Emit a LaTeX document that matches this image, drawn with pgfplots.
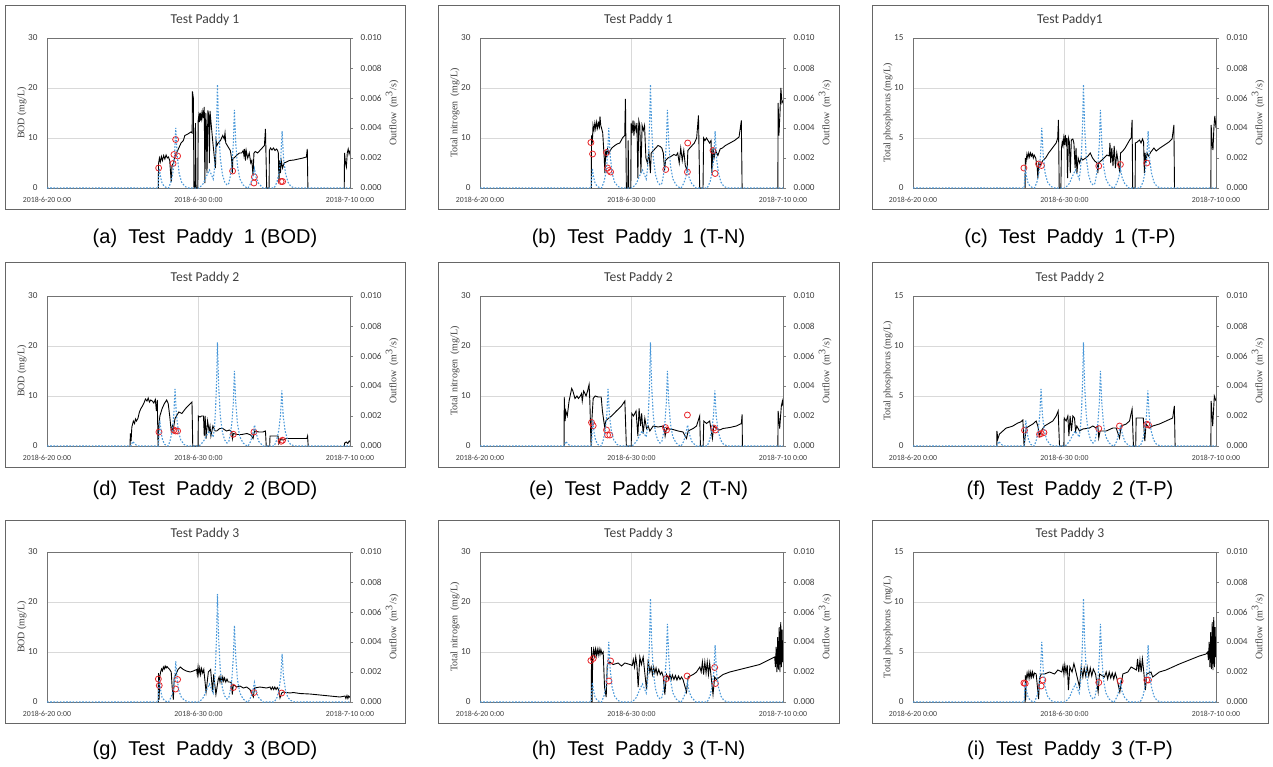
\documentclass[border=0pt]{standalone}
\usepackage{fontspec}
\setmainfont{Carlito}
\newfontfamily\serifl{Liberation Serif}
\newfontfamily\capfont{Liberation Sans}
\usepackage{pgfplots}
\pgfplotsset{compat=1.18}
\usepackage{pgfplotstable}

\definecolor{txt}{HTML}{404040}
\definecolor{gridc}{HTML}{D9D9D9}
\definecolor{qblue}{HTML}{4A98D9}
\definecolor{obsred}{HTML}{E8262A}

% outflow, paddy 1 (also used for paddy 3 T-N / T-P)
\pgfplotstableread{
x y
0 0
7.34 0
7.38 0.0009
7.42 0.0013
7.5 0.0007
7.6 0.0003
7.75 0.0001
7.95 0
8.02 0
8.18 0.0004
8.31 0.001
8.42 0.0022
8.5 0.004
8.59 0.0022
8.72 0.001
8.88 0.0004
9.1 0.0001
9.35 0
10.05 0
10.32 0.0003
10.53 0.0008
10.72 0.0012
10.85 0.0009
10.97 0.0006
11.05 0.0012
11.13 0.0025
11.2 0.0045
11.25 0.0069
11.33 0.004
11.44 0.002
11.58 0.0009
11.73 0.0004
11.88 0.0002
12.0 0.0003
12.1 0.0008
12.2 0.0015
12.3 0.003
12.37 0.0052
12.46 0.003
12.57 0.0015
12.73 0.0006
12.95 0.0002
13.2 0
13.28 0
13.44 0.0003
13.58 0.0007
13.69 0.0013
13.8 0.0007
13.97 0.0003
14.25 0
15.0 0
15.18 0.0004
15.31 0.001
15.43 0.002
15.52 0.0038
15.61 0.002
15.74 0.001
15.9 0.0004
16.1 0.0001
16.35 0
20 0
}\QA

% outflow, paddy 2
\pgfplotstableread{
x y
0 0
5.55 0
5.65 0.0003
5.75 0.0002
5.95 0
7.36 0
7.4 0.0011
7.45 0.0017
7.53 0.0009
7.63 0.0004
7.78 0.0001
7.98 0
8.0 0
8.14 0.0004
8.26 0.001
8.37 0.0021
8.45 0.0038
8.54 0.0021
8.67 0.001
8.83 0.0004
9.05 0.0001
9.3 0
10.05 0
10.32 0.0003
10.53 0.0007
10.7 0.001
10.85 0.0008
10.97 0.0006
11.05 0.0012
11.13 0.0025
11.2 0.0045
11.25 0.0069
11.33 0.004
11.44 0.002
11.58 0.0009
11.73 0.0004
11.88 0.0002
12.0 0.0003
12.1 0.0008
12.2 0.0015
12.3 0.0029
12.37 0.005
12.46 0.0029
12.57 0.0015
12.73 0.0006
12.95 0.0002
13.2 0
13.28 0
13.44 0.0003
13.58 0.0008
13.7 0.0014
13.82 0.0008
13.98 0.0003
14.25 0
15.0 0
15.16 0.0004
15.29 0.001
15.41 0.002
15.5 0.0037
15.59 0.002
15.72 0.001
15.88 0.0004
16.08 0.0001
16.35 0
20 0
}\QB

% outflow, paddy 3 BOD panel
\pgfplotstableread{
x y
0 0
7.34 0
7.38 0.001
7.42 0.0015
7.5 0.0008
7.6 0.0003
7.75 0.0001
7.95 0
8.02 0
8.18 0.0003
8.31 0.0007
8.42 0.0015
8.5 0.0027
8.59 0.0015
8.72 0.0007
8.88 0.0003
9.1 0.0001
9.35 0
10.05 0
10.32 0.0003
10.53 0.0008
10.72 0.0012
10.85 0.0009
10.97 0.0006
11.05 0.0013
11.13 0.0026
11.2 0.0047
11.25 0.0072
11.33 0.0042
11.44 0.0021
11.58 0.0009
11.73 0.0004
11.88 0.0002
12.0 0.0003
12.1 0.0008
12.2 0.0015
12.3 0.003
12.37 0.0051
12.46 0.003
12.57 0.0015
12.73 0.0006
12.95 0.0002
13.2 0
13.28 0
13.44 0.0003
13.58 0.0007
13.69 0.0013
13.8 0.0007
13.97 0.0003
14.25 0
15.0 0
15.18 0.0003
15.31 0.0008
15.43 0.0017
15.52 0.0032
15.61 0.0017
15.74 0.0008
15.9 0.0003
16.1 0.0001
16.35 0
20 0
}\QC

\pgfplotsset{
  base/.style={scale only axis, width=151.5pt, height=75pt, xmin=0, xmax=20,
    /pgf/number format/assume math mode=true,
    tick label style={font=\fontsize{4.6}{5}\selectfont, color=txt},
    every axis y label/.style={font=\serifl\fontsize{5}{6}\selectfont, color=txt, rotate=90, anchor=center},
    anchor=south west},
  conc/.style={base, ymin=0, xtick={0,10,20},
    xticklabels={2018-6-20 0:00,2018-6-30 0:00,2018-7-10 0:00},
    x tick label style={font=\fontsize{3.9}{4.5}\selectfont, yshift=-1.2pt},
    yticklabel style={xshift=-1.2pt},
    xmajorgrids, ymajorgrids, grid style={gridc, line width=0.4pt},
    axis line style={black!55, line width=0.4pt},
    major tick length=0pt, unbounded coords=jump,
    ylabel style={at={(axis description cs:-0.0825,0.5)}}},
  flow/.style={base, ymin=0, ymax=0.01, axis x line=none, axis y line*=right,
    ytick={0,0.002,0.004,0.006,0.008,0.01}, scaled y ticks=false,
    yticklabel style={/pgf/number format/fixed, /pgf/number format/fixed zerofill,
      /pgf/number format/precision=3, xshift=0.3pt},
    major tick length=1.5pt, tick align=outside,
    axis line style={black!55, line width=0.4pt},
    ylabel={Outflow\ \ (m\textsuperscript{3}/s)},
    ylabel style={at={(axis description cs:1.139,0.5)}}},
  cline/.style={black, line width=0.45pt, no markers},
  obs/.style={only marks, mark=o, mark size=1.5pt, obsred, mark options={line width=0.4pt}},
  qline/.style={qblue, line width=0.55pt, dash pattern=on 0.8pt off 0.8pt, no markers},
}

\newcommand{\ttl}[1]{\fontsize{6.8}{8}\selectfont\color{txt}#1}
\newcommand{\cpt}[1]{\capfont\fontsize{10}{12}\selectfont #1}

\begin{document}
\begin{tikzpicture}
\path[use as bounding box] (0,0) rectangle (636.5pt,-383pt);

% frames
\foreach \xa/\xb in {2.5pt/202.5pt, 219pt/419.5pt, 436pt/634pt}{
  \foreach \ya/\yb in {-2.5pt/-104.5pt, -131pt/-233.5pt, -260pt/-361.5pt}{
    \draw[black!60, line width=0.5pt] (\xa,\ya) rectangle (\xb,\yb);
  }
}

% titles
\node at (102.5pt,-10pt) {\ttl{Test Paddy 1}};
\node at (319.25pt,-10pt) {\ttl{Test Paddy 1}};
\node at (535pt,-10pt) {\ttl{Test Paddy1}};
\node at (102.5pt,-139pt) {\ttl{Test Paddy 2}};
\node at (319.25pt,-139pt) {\ttl{Test Paddy 2}};
\node at (535pt,-139pt) {\ttl{Test Paddy 2}};
\node at (102.5pt,-267pt) {\ttl{Test Paddy 3}};
\node at (319.25pt,-267pt) {\ttl{Test Paddy 3}};
\node at (535pt,-267pt) {\ttl{Test Paddy 3}};

% captions
\node at (102.5pt,-119pt) {\cpt{(a)\ \ Test\ \ Paddy\ \ 1 (BOD)}};
\node at (319.25pt,-119pt) {\cpt{(b)\ \ Test\ \ Paddy\ \ 1 (T-N)}};
\node at (535pt,-119pt) {\cpt{(c)\ \ Test\ \ Paddy\ \ 1 (T-P)}};
\node at (102.5pt,-245pt) {\cpt{(d)\ \ Test\ \ Paddy\ \ 2 (BOD)}};
\node at (319.25pt,-245pt) {\cpt{(e)\ \ Test\ \ Paddy\ \ 2\ \ (T-N)}};
\node at (535pt,-245pt) {\cpt{(f)\ \ Test\ \ Paddy\ \ 2 (T-P)}};
\node at (102.5pt,-375pt) {\cpt{(g)\ \ Test\ \ Paddy\ \ 3 (BOD)}};
\node at (319.25pt,-375pt) {\cpt{(h)\ \ Test\ \ Paddy\ \ 3 (T-N)}};
\node at (535pt,-375pt) {\cpt{(i)\ \ Test\ \ Paddy\ \ 3 (T-P)}};

% ---------- (a) Paddy 1 BOD
\begin{axis}[conc, at={(23.5pt,-94pt)}, ymax=30, ytick={0,10,20,30}, ylabel={BOD (mg/L)}]
\addplot[cline] coordinates {(7.35,0)(7.36,4.8)(7.42,6.0)(7.48,5.2)(7.55,6.3)(7.62,5.5)(7.7,6.5)(7.78,5.8)(7.86,6.6)(7.94,6.0)(8.02,6.2)(8.1,5.5)(8.2,1.2)(8.25,4.5)(8.35,5.0)(8.45,6.5)(8.55,7.0)(8.7,8.0)(8.85,9.0)(9.0,9.5)(9.1,10.5)(9.3,10.8)(9.5,11.2)(9.58,11.0)(9.6,19.3)(9.66,18.0)(9.7,0)(9.78,0)(9.8,13.0)(9.84,0)(9.95,0)(9.98,13.5)(10.02,14.5)(10.06,13.2)(10.1,15.0)(10.14,13.5)(10.18,14.8)(10.22,13.8)(10.28,15.2)(10.32,14.0)(10.38,16.2)(10.42,1.0)(10.48,15.0)(10.52,12.0)(10.56,3.0)(10.62,15.5)(10.68,14.5)(10.72,5.0)(10.76,15.4)(10.8,14.0)(10.86,12.0)(10.95,9.0)(11.05,6.0)(11.12,4.0)(11.16,9.5)(11.22,8.5)(11.3,9.0)(11.45,9.5)(11.6,10.5)(11.7,9.8)(11.75,11.0)(11.8,9.0)(11.9,8.5)(12.0,8.0)(12.1,7.5)(12.18,6.0)(12.23,3.0)(12.27,6.0)(12.35,6.0)(12.5,6.5)(12.7,7.0)(12.85,7.0)(12.95,7.5)(13.0,6.5)(13.05,7.8)(13.1,5.5)(13.15,7.5)(13.25,6.0)(13.35,7.0)(13.45,5.0)(13.52,5.5)(13.6,2.5)(13.66,7.0)(13.75,7.3)(13.9,7.0)(14.05,7.5)(14.2,8.0)(14.35,8.5)(14.42,11.8)(14.5,0)(14.66,0)(14.68,7.5)(14.75,8.0)(14.85,7.6)(14.95,8.0)(15.05,7.5)(15.15,7.8)(15.22,7.5)(15.27,7.0)(15.31,1.0)(15.36,5.5)(15.41,3.0)(15.46,5.5)(15.55,4.0)(15.65,5.0)(15.8,5.2)(16.0,5.5)(16.3,5.6)(16.6,5.8)(16.9,6.0)(17.12,6.2)(17.18,7.8)(17.22,0)(17.3,nan)(19.62,0)(19.64,7.0)(19.7,5.0)(19.76,4.2)(19.82,7.0)(19.88,7.8)(19.94,6.8)(20,7.5)};
\addplot[obs] coordinates {(7.37,4.0)(8.32,4.9)(8.38,6.7)(8.62,6.4)(8.49,9.7)(12.25,3.4)(13.69,2.2)(13.66,1.0)(15.45,1.3)(15.55,1.3)};
\end{axis}
\begin{axis}[flow, at={(23.5pt,-94pt)}]
\addplot[qline] table {\QA};
\end{axis}

% ---------- (b) Paddy 1 T-N
\begin{axis}[conc, at={(240pt,-94pt)}, ymax=30, ytick={0,10,20,30}, ylabel={Total nitrogen\ \ (mg/L)}]
\addplot[cline] coordinates {(7.35,0)(7.36,10.5)(7.42,9.5)(7.46,12.5)(7.52,11.5)(7.58,13.0)(7.64,11.8)(7.7,13.2)(7.76,12.0)(7.82,13.0)(7.88,12.2)(7.92,14.3)(7.97,12.5)(8.02,12.0)(8.1,11.0)(8.2,6.0)(8.24,3.0)(8.3,7.5)(8.35,6.5)(8.42,7.8)(8.5,6.8)(8.6,7.5)(8.7,8.0)(8.9,8.5)(9.05,8.8)(9.23,9.0)(9.4,10.0)(9.55,10.5)(9.6,17.8)(9.66,0)(9.76,0)(9.78,9.5)(9.82,0)(9.95,0)(9.98,13.0)(10.04,11.0)(10.1,13.5)(10.16,10.5)(10.22,12.8)(10.3,11.5)(10.36,13.0)(10.42,2.0)(10.48,13.5)(10.55,12.5)(10.62,3.0)(10.7,12.5)(10.78,11.5)(10.86,12.5)(10.95,6.0)(11.05,5.0)(11.15,7.0)(11.25,3.0)(11.3,7.0)(11.45,7.5)(11.6,8.0)(11.75,8.5)(11.9,8.3)(12.0,8.0)(12.1,7.0)(12.18,3.5)(12.25,5.5)(12.4,6.0)(12.6,6.3)(12.8,6.7)(12.95,6.5)(13.05,7.0)(13.15,5.0)(13.25,8.0)(13.35,5.5)(13.45,7.5)(13.55,4.5)(13.67,3.5)(13.72,7.5)(13.85,8.0)(14.0,8.5)(14.15,9.0)(14.3,10.0)(14.42,14.5)(14.5,0)(14.72,0)(14.76,10.0)(14.85,9.5)(14.95,10.0)(15.05,9.5)(15.15,9.0)(15.25,9.5)(15.3,3.0)(15.38,8.0)(15.45,6.0)(15.55,7.5)(15.7,6.5)(15.85,7.8)(16.0,8.0)(16.2,8.5)(16.5,9.0)(16.8,9.5)(17.1,10.2)(17.25,13.5)(17.3,0)(17.4,nan)(19.66,0)(19.68,17.0)(19.73,10.5)(19.8,15.0)(19.86,20.0)(19.93,17.0)(20,17.5)};
\addplot[obs] coordinates {(7.32,9.1)(7.43,6.8)(8.35,7.1)(8.42,4.0)(8.51,3.5)(8.62,3.2)(12.26,3.7)(13.69,3.2)(13.71,9.0)(15.38,7.5)(15.52,2.9)};
\end{axis}
\begin{axis}[flow, at={(240pt,-94pt)}]
\addplot[qline] table {\QA};
\end{axis}

% ---------- (c) Paddy 1 T-P
\begin{axis}[conc, at={(456.5pt,-94pt)}, ymax=15, ytick={0,5,10,15}, ylabel={Total phosphorus (mg/L)}]
\addplot[cline] coordinates {(7.4,0)(7.41,3.0)(7.46,2.6)(7.52,3.4)(7.58,3.0)(7.64,3.5)(7.7,3.1)(7.76,3.5)(7.82,3.2)(7.88,3.4)(7.94,3.0)(8.0,3.3)(8.1,3.0)(8.2,2.0)(8.24,1.0)(8.3,2.5)(8.4,2.3)(8.55,2.7)(8.75,3.0)(8.95,3.5)(9.2,4.0)(9.45,4.5)(9.55,5.0)(9.6,6.8)(9.65,0)(9.76,0)(9.8,4.0)(9.85,4.6)(9.9,4.2)(9.95,5.0)(10.0,4.3)(10.05,5.3)(10.1,4.5)(10.15,5.0)(10.2,1.0)(10.26,5.0)(10.32,4.6)(10.38,1.5)(10.45,4.8)(10.55,4.9)(10.62,4.5)(10.7,2.0)(10.76,4.0)(10.82,1.5)(10.9,3.0)(11.0,2.5)(11.1,3.0)(11.2,2.8)(11.4,3.0)(11.55,3.2)(11.7,3.5)(11.85,3.0)(12.0,2.7)(12.15,2.5)(12.2,1.5)(12.25,2.5)(12.4,2.7)(12.6,3.0)(12.8,3.3)(12.95,3.2)(13.0,4.5)(13.05,2.5)(13.12,4.0)(13.2,2.2)(13.28,4.2)(13.36,2.0)(13.45,3.5)(13.55,2.5)(13.65,1.5)(13.7,3.5)(13.85,3.7)(14.0,4.0)(14.15,4.4)(14.3,4.8)(14.4,5.0)(14.46,6.8)(14.5,0)(14.66,0)(14.68,4.5)(14.8,4.6)(14.95,4.8)(15.05,4.5)(15.15,4.9)(15.22,4.6)(15.27,1.5)(15.32,3.5)(15.38,2.5)(15.45,3.5)(15.55,3.2)(15.7,3.6)(15.9,4.0)(16.05,3.7)(16.3,4.0)(16.6,4.3)(16.9,4.6)(17.1,4.9)(17.22,6.3)(17.26,0)(17.3,nan)(19.66,0)(19.68,6.3)(19.74,4.5)(19.8,3.8)(19.86,6.0)(19.92,7.2)(19.97,6.5)(20,6.0)};
\addplot[obs] coordinates {(7.32,2.0)(8.29,2.4)(8.48,2.25)(12.26,2.2)(13.69,2.35)(15.43,2.5)};
\end{axis}
\begin{axis}[flow, at={(456.5pt,-94pt)}]
\addplot[qline] table {\QA};
\end{axis}

% ---------- (d) Paddy 2 BOD
\begin{axis}[conc, at={(23.5pt,-223pt)}, ymax=30, ytick={0,10,20,30}, ylabel={BOD (mg/L)}]
\addplot[cline] coordinates {(5.48,0)(5.5,2.5)(5.55,1.0)(5.6,3.8)(5.7,5.0)(5.78,4.5)(5.84,5.4)(5.9,5.0)(6.0,5.5)(6.1,6.8)(6.2,7.5)(6.3,8.0)(6.4,8.6)(6.5,9.4)(6.6,9.0)(6.68,9.6)(6.76,8.8)(6.85,9.2)(6.95,9.0)(7.05,8.6)(7.15,9.3)(7.22,7.0)(7.28,9.2)(7.33,0)(7.37,3.5)(7.45,6.0)(7.6,7.5)(7.75,8.5)(7.9,9.2)(8.0,8.5)(8.1,6.0)(8.2,3.0)(8.28,4.0)(8.32,3.0)(8.45,5.5)(8.7,6.8)(8.9,6.5)(9.15,7.5)(9.4,8.3)(9.57,8.8)(9.62,0)(9.97,0)(9.99,6.0)(10.1,5.8)(10.2,6.0)(10.33,6.0)(10.38,2.0)(10.44,6.0)(10.5,1.5)(10.6,5.0)(10.7,3.0)(10.76,4.0)(10.82,2.0)(10.95,4.0)(11.1,3.0)(11.2,3.0)(11.4,3.5)(11.6,3.5)(11.85,3.0)(12.05,3.2)(12.2,2.8)(12.24,1.5)(12.3,2.5)(12.55,2.3)(12.85,2.3)(13.2,2.5)(13.45,2.2)(13.6,1.5)(13.7,3.0)(14.0,2.8)(14.25,2.8)(14.42,3.0)(14.47,0)(14.7,0)(14.72,2.0)(15.0,2.0)(15.25,2.0)(15.3,0.5)(15.4,1.3)(15.55,1.2)(15.8,1.5)(16.3,1.5)(16.8,1.5)(17.15,1.5)(17.2,2.0)(17.24,0)(17.3,nan)(19.62,0)(19.65,0.6)(19.75,0.8)(19.85,0.5)(19.95,1.0)(20,0.8)};
\addplot[obs] coordinates {(7.39,2.8)(8.38,3.2)(8.49,3.0)(8.62,3.0)(12.3,2.35)(13.66,2.8)(15.45,0.95)(15.55,1.15)};
\end{axis}
\begin{axis}[flow, at={(23.5pt,-223pt)}]
\addplot[qline] table {\QB};
\end{axis}

% ---------- (e) Paddy 2 T-N
\begin{axis}[conc, at={(240pt,-223pt)}, ymax=30, ytick={0,10,20,30}, ylabel={Total nitrogen\ \ (mg/L)}]
\addplot[cline] coordinates {(5.55,0)(5.56,9.8)(5.62,5.0)(5.66,7.0)(5.76,6.0)(5.88,9.0)(6.05,11.5)(6.13,11.0)(6.27,9.5)(6.4,10.0)(6.5,9.5)(6.62,10.0)(6.7,10.5)(6.75,9.0)(6.84,11.0)(6.93,10.5)(7.0,10.0)(7.1,11.0)(7.2,12.3)(7.25,9.0)(7.33,0)(7.38,5.0)(7.47,9.5)(7.6,10.0)(7.8,9.8)(8.0,9.8)(8.08,7.0)(8.24,3.5)(8.3,5.0)(8.46,5.5)(8.68,6.0)(9.0,7.0)(9.34,8.0)(9.56,9.0)(9.66,0)(9.98,0)(10.02,6.5)(10.13,6.0)(10.3,7.0)(10.42,2.0)(10.5,7.5)(10.6,4.0)(10.67,6.5)(10.77,2.5)(10.88,5.5)(10.99,3.5)(11.1,4.0)(11.21,3.0)(11.43,4.0)(11.76,3.8)(12.09,4.0)(12.16,3.5)(12.22,2.0)(12.31,3.5)(12.75,3.3)(13.08,3.0)(13.4,2.8)(13.63,1.5)(13.74,3.0)(14.07,3.5)(14.29,4.0)(14.5,6.0)(14.55,0)(14.73,0)(14.77,5.0)(14.95,4.5)(15.16,5.0)(15.34,1.5)(15.43,4.0)(15.6,3.5)(15.82,3.2)(16.04,3.5)(16.48,3.7)(16.92,4.0)(17.25,4.5)(17.3,6.3)(17.32,0)(17.4,nan)(19.66,0)(19.68,7.0)(19.78,3.5)(19.89,8.0)(19.96,9.0)(20,8.0)};
\addplot[obs] coordinates {(7.36,4.7)(7.47,4.05)(8.35,3.2)(8.42,2.2)(8.57,2.2)(12.24,3.7)(12.31,3.2)(13.69,6.2)(15.43,3.6)(15.54,3.2)};
\end{axis}
\begin{axis}[flow, at={(240pt,-223pt)}]
\addplot[qline] table {\QB};
\end{axis}

% ---------- (f) Paddy 2 T-P
\begin{axis}[conc, at={(456.5pt,-223pt)}, ymax=15, ytick={0,5,10,15}, ylabel={Total phosphorus (mg/L)}]
\addplot[cline] coordinates {(5.53,0)(5.54,1.5)(5.6,0.7)(5.71,1.2)(5.93,1.5)(6.15,1.8)(6.4,1.9)(6.59,2.0)(6.92,2.3)(7.1,2.4)(7.25,2.6)(7.33,0)(7.41,1.0)(7.47,1.8)(7.69,2.0)(7.91,2.2)(8.13,2.5)(8.24,2.0)(8.35,1.0)(8.46,1.5)(8.68,2.0)(9.01,2.3)(9.23,2.5)(9.45,3.0)(9.58,3.5)(9.67,0)(9.96,0)(9.98,2.8)(10.11,2.5)(10.22,3.0)(10.29,1.0)(10.37,3.0)(10.46,1.5)(10.55,3.0)(10.66,2.8)(10.73,1.5)(10.81,2.0)(10.99,1.5)(11.21,1.7)(11.65,1.8)(11.87,2.0)(12.09,1.8)(12.2,2.0)(12.26,0.8)(12.35,1.5)(12.75,1.5)(13.19,1.8)(13.41,1.8)(13.63,0.8)(13.74,2.0)(14.07,2.2)(14.29,2.5)(14.46,3.7)(14.55,0)(14.7,0)(14.73,2.8)(15.2,2.8)(15.3,0.5)(15.38,2.2)(15.6,1.8)(15.82,2.0)(16.26,2.2)(16.7,2.5)(17.14,2.8)(17.25,4.0)(17.3,0)(17.4,nan)(19.66,0)(19.68,4.5)(19.78,2.0)(19.89,5.0)(20,4.5)};
\addplot[obs] coordinates {(7.36,1.57)(8.35,1.17)(8.46,1.24)(8.64,1.34)(12.26,1.74)(13.63,2.0)(15.43,2.18)(15.54,2.1)};
\end{axis}
\begin{axis}[flow, at={(456.5pt,-223pt)}]
\addplot[qline] table {\QB};
\end{axis}

% ---------- (g) Paddy 3 BOD
\begin{axis}[conc, at={(23.5pt,-351pt)}, ymax=30, ytick={0,10,20,30}, ylabel={BOD (mg/L)}]
\addplot[cline] coordinates {(7.35,0)(7.36,5.8)(7.4,0.5)(7.44,5.0)(7.5,6.0)(7.56,6.6)(7.62,6.2)(7.68,7.0)(7.74,6.6)(7.8,7.2)(7.86,6.8)(7.92,7.1)(8.0,6.8)(8.1,6.5)(8.2,6.0)(8.26,3.0)(8.34,0.5)(8.4,5.0)(8.5,5.5)(8.65,6.5)(8.8,7.0)(9.0,6.5)(9.2,6.2)(9.45,6.0)(9.65,6.2)(9.88,6.5)(9.92,5.5)(9.97,7.0)(10.02,5.6)(10.08,6.8)(10.14,5.5)(10.2,6.7)(10.28,5.8)(10.35,6.5)(10.5,2.0)(10.65,6.0)(10.8,6.5)(10.93,2.0)(11.0,5.5)(11.15,1.5)(11.3,4.5)(11.36,5.0)(11.42,4.0)(11.48,5.0)(11.54,4.0)(11.6,5.0)(11.66,4.2)(11.72,4.8)(11.8,4.0)(11.88,4.6)(11.96,4.0)(12.08,4.0)(12.18,3.8)(12.23,1.5)(12.3,3.5)(12.52,3.0)(12.74,3.2)(12.96,2.8)(13.18,3.0)(13.4,2.5)(13.62,1.0)(13.7,2.8)(14.05,3.0)(14.5,2.8)(14.72,3.0)(14.8,2.5)(14.88,3.0)(14.96,2.5)(15.04,3.0)(15.12,2.5)(15.2,2.9)(15.28,2.5)(15.38,0.8)(15.49,1.8)(15.6,2.0)(16.04,1.8)(16.26,1.9)(16.7,1.7)(17.36,1.6)(18.02,1.4)(18.68,1.2)(19.34,1.0)(19.67,1.2)(19.73,0.7)(19.8,1.3)(19.86,0.7)(19.92,1.2)(20,0.9)};
\addplot[obs] coordinates {(7.35,4.6)(7.41,3.3)(8.49,2.6)(8.62,4.5)(12.3,2.9)(13.66,1.9)(15.49,1.8)};
\end{axis}
\begin{axis}[flow, at={(23.5pt,-351pt)}]
\addplot[qline] table {\QC};
\end{axis}

% ---------- (h) Paddy 3 T-N
\begin{axis}[conc, at={(240pt,-351pt)}, ymax=30, ytick={0,10,20,30}, ylabel={Total nitrogen\ \ (mg/L)}]
\addplot[cline] coordinates {(7.35,0)(7.36,11.0)(7.4,0)(7.44,9.0)(7.5,10.5)(7.56,9.2)(7.62,10.6)(7.68,9.3)(7.74,10.5)(7.8,9.4)(7.86,10.6)(7.92,9.5)(7.98,10.5)(8.05,9.6)(8.13,10.0)(8.22,3.0)(8.33,1.0)(8.4,7.5)(8.57,8.0)(8.79,7.5)(9.12,7.8)(9.34,7.2)(9.56,7.8)(9.9,7.5)(10.05,7.3)(10.12,8.5)(10.2,7.0)(10.28,9.0)(10.36,7.2)(10.44,3.0)(10.55,9.0)(10.65,7.5)(10.77,9.0)(10.99,2.5)(11.1,8.5)(11.21,6.0)(11.3,7.0)(11.38,5.5)(11.46,7.0)(11.54,5.8)(11.62,6.8)(11.7,5.5)(11.8,6.5)(11.9,5.5)(12.0,6.0)(12.1,5.0)(12.2,1.5)(12.31,5.5)(12.45,4.6)(12.53,5.5)(12.62,4.5)(12.7,5.4)(12.8,4.5)(12.9,5.3)(13.0,4.4)(13.1,5.2)(13.2,4.5)(13.3,5.0)(13.4,4.5)(13.63,2.0)(13.74,5.0)(14.07,5.5)(14.29,6.0)(14.51,7.0)(14.6,6.0)(14.68,8.0)(14.76,5.5)(14.84,8.0)(14.92,5.8)(15.0,8.0)(15.08,5.5)(15.16,7.8)(15.24,5.5)(15.38,1.5)(15.49,5.0)(15.6,4.5)(15.82,5.0)(16.04,5.5)(16.48,6.0)(17.14,6.5)(17.8,7.0)(18.46,7.5)(19.12,8.5)(19.45,9.0)(19.5,7.0)(19.55,11.0)(19.6,6.0)(19.65,13.0)(19.7,6.5)(19.75,15.0)(19.8,6.0)(19.85,16.0)(19.9,7.0)(19.94,14.5)(19.98,8.0)(20,12.0)};
\addplot[obs] coordinates {(7.32,8.3)(7.47,8.7)(8.51,4.2)(8.62,8.2)(12.31,4.7)(13.67,5.2)(15.49,6.9)(15.54,3.7)};
\end{axis}
\begin{axis}[flow, at={(240pt,-351pt)}]
\addplot[qline] table {\QA};
\end{axis}

% ---------- (i) Paddy 3 T-P
\begin{axis}[conc, at={(456.5pt,-351pt)}, ymax=15, ytick={0,5,10,15}, ylabel={Total phosphorus\ \ (mg/L)}]
\addplot[cline] coordinates {(7.4,0)(7.41,2.7)(7.44,0.2)(7.47,2.3)(7.53,2.9)(7.59,2.4)(7.65,3.0)(7.71,2.4)(7.77,3.0)(7.83,2.5)(7.89,3.0)(7.95,2.5)(8.02,2.9)(8.13,2.8)(8.29,0.3)(8.35,2.3)(8.46,2.8)(8.68,2.8)(9.01,3.0)(9.34,2.8)(9.56,3.2)(9.82,3.0)(9.9,3.6)(9.96,2.8)(10.02,3.7)(10.1,2.9)(10.18,3.7)(10.26,1.2)(10.35,3.5)(10.5,3.0)(10.62,3.85)(10.99,1.5)(11.1,3.5)(11.21,2.5)(11.3,3.4)(11.4,2.6)(11.5,3.5)(11.6,2.6)(11.7,3.4)(11.8,2.6)(11.9,3.3)(12.05,2.8)(12.22,1.0)(12.31,2.8)(12.64,2.5)(12.75,3.0)(12.85,2.3)(12.95,3.0)(13.05,2.4)(13.15,2.9)(13.25,2.3)(13.35,2.9)(13.45,2.4)(13.65,1.0)(13.85,2.8)(14.18,3.0)(14.4,3.5)(14.75,3.2)(14.82,4.3)(14.9,3.0)(14.98,4.2)(15.06,3.0)(15.14,4.3)(15.22,3.2)(15.34,1.2)(15.43,2.8)(15.71,3.0)(15.82,2.5)(16.26,3.0)(16.7,3.2)(17.14,3.5)(17.58,3.8)(18.24,4.2)(18.9,4.6)(19.34,4.8)(19.45,5.0)(19.5,4.2)(19.55,6.0)(19.6,3.5)(19.65,7.0)(19.7,3.3)(19.75,8.0)(19.8,3.2)(19.85,8.5)(19.9,3.5)(19.94,7.5)(19.98,4.5)(20,6.5)};
\addplot[obs] coordinates {(7.32,1.9)(7.41,1.85)(8.46,1.6)(8.57,2.2)(12.26,1.95)(13.67,2.1)(15.43,2.2)(15.54,2.2)};
\end{axis}
\begin{axis}[flow, at={(456.5pt,-351pt)}]
\addplot[qline] table {\QA};
\end{axis}

\end{tikzpicture}
\end{document}
